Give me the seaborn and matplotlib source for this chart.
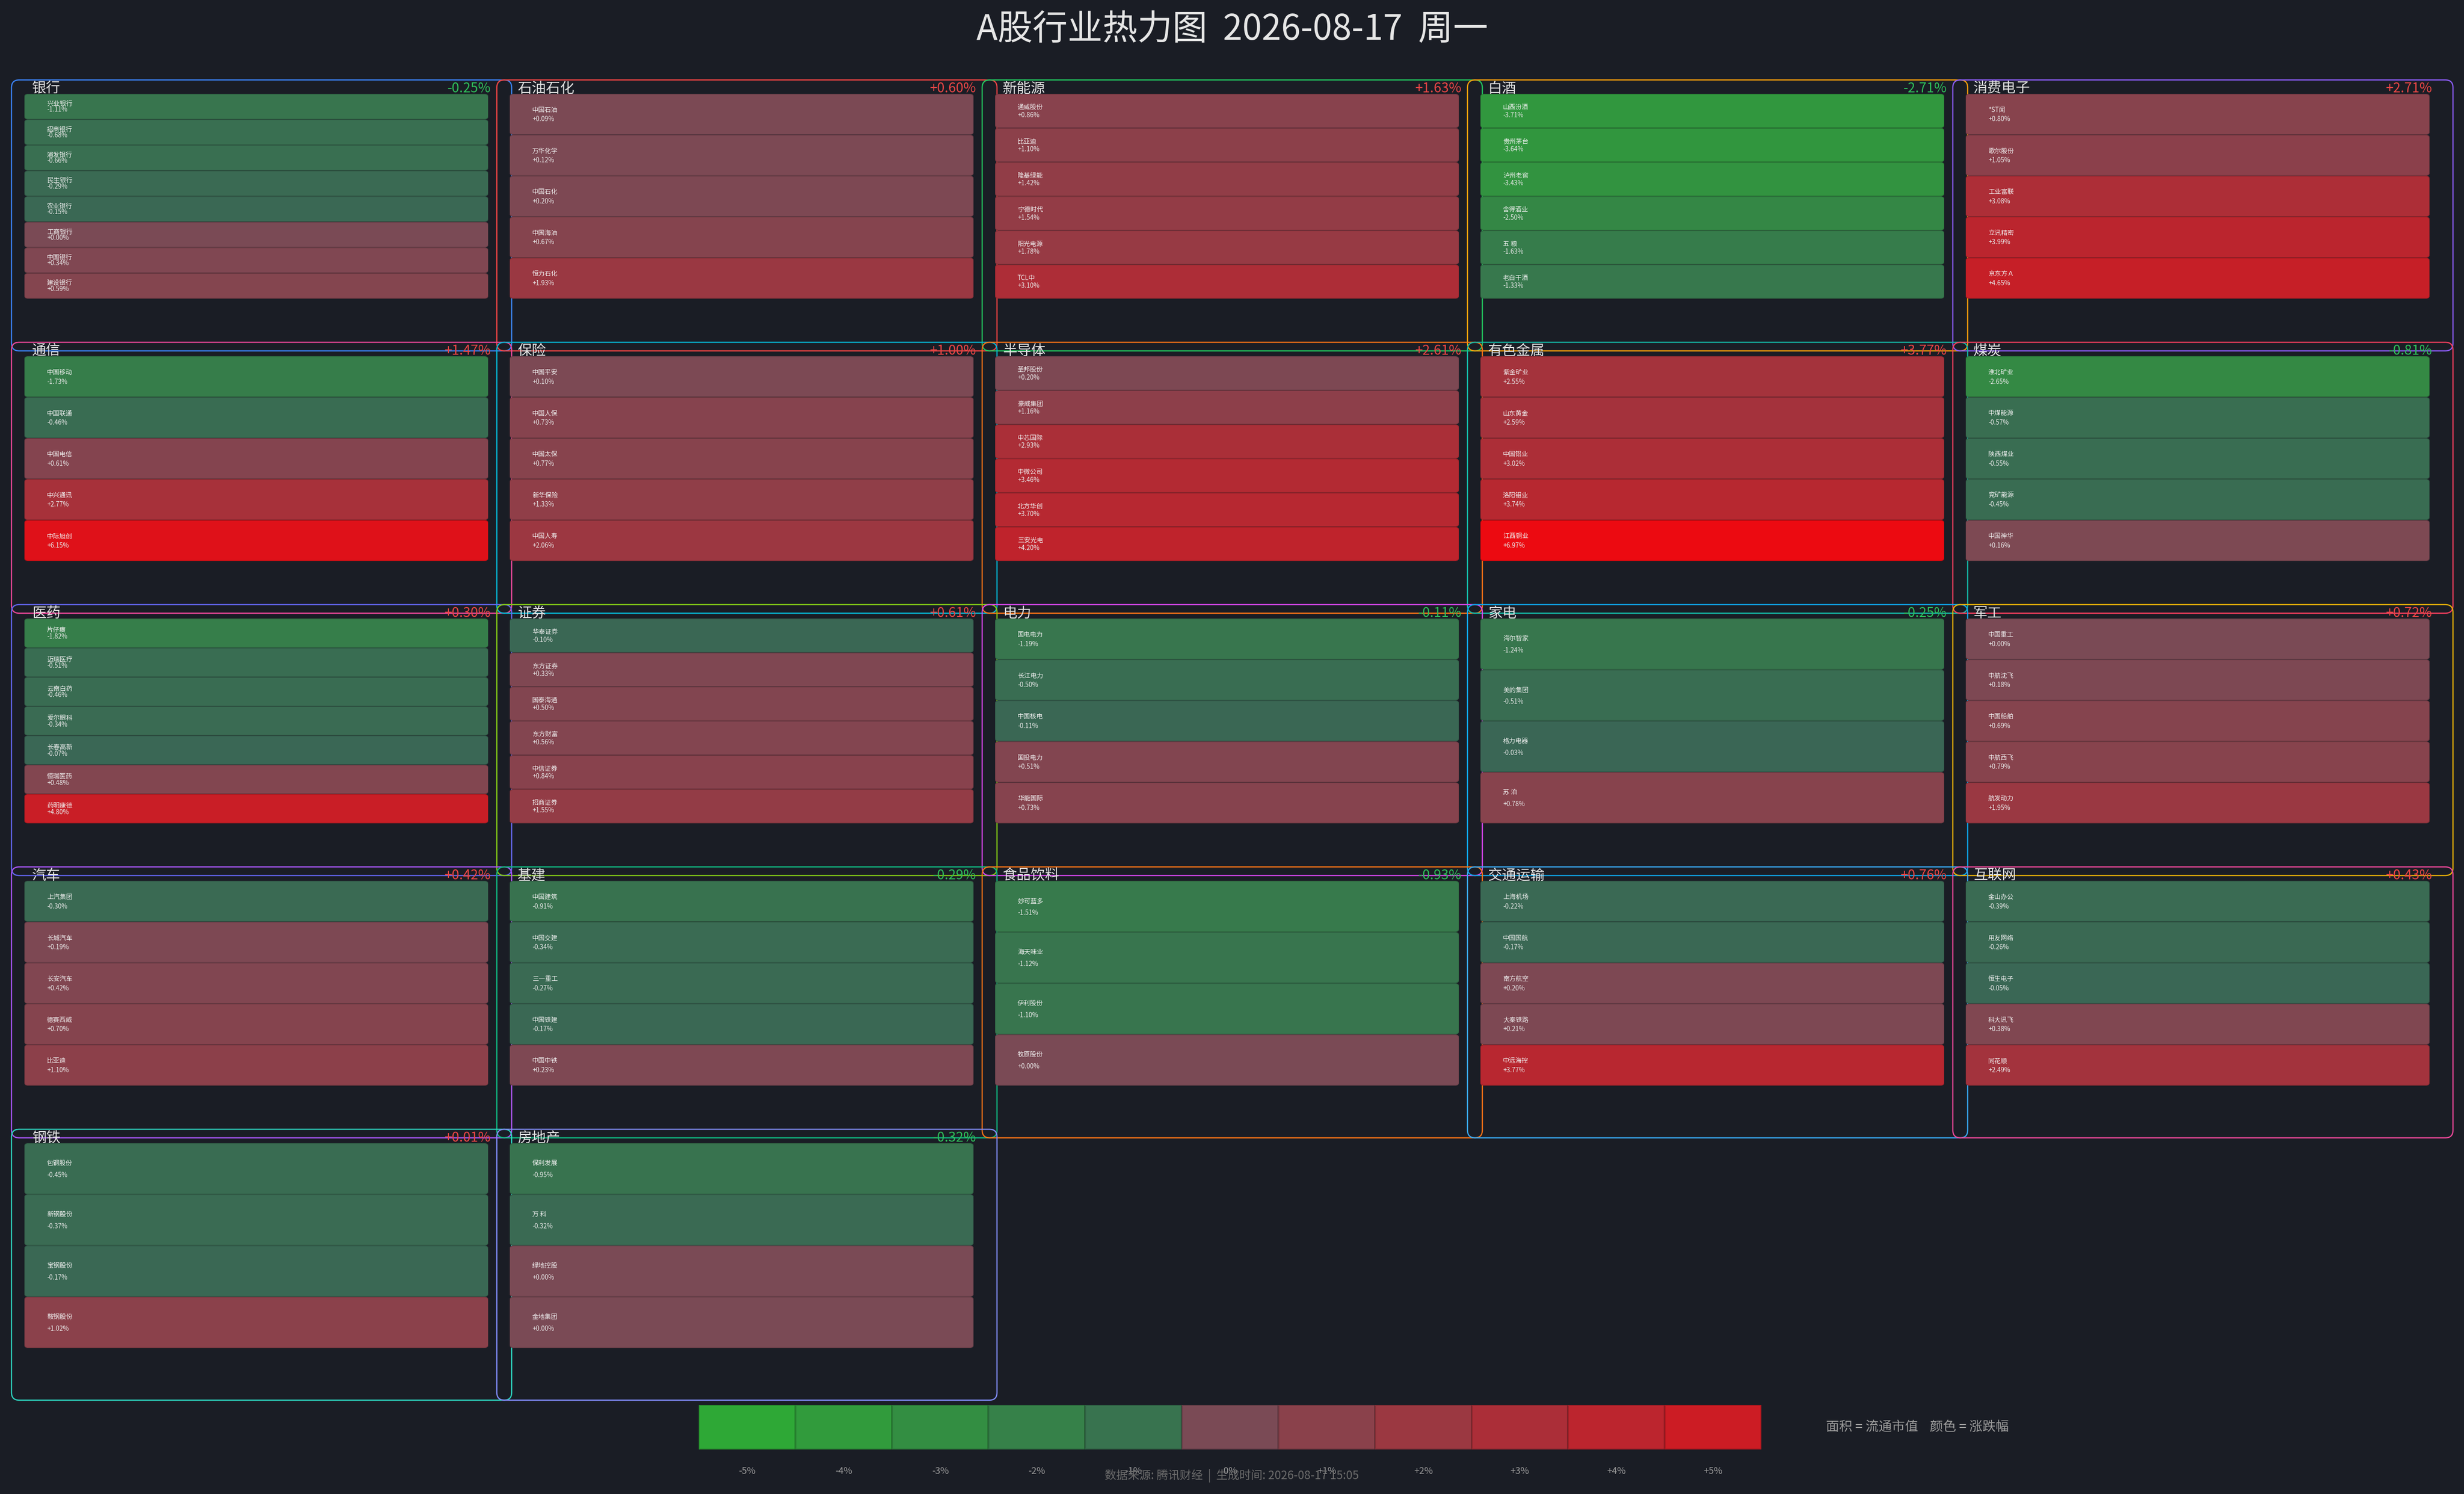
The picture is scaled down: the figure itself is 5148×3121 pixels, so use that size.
import numpy as np
import matplotlib
matplotlib.use("Agg")
import matplotlib.pyplot as plt
from matplotlib.patches import FancyBboxPatch
from matplotlib.colors import ListedColormap
import seaborn as sns

# ---------------- data ----------------
sectors = ["银行", "石油石化", "新能源", "白酒", "消费电子",
           "通信", "保险", "半导体", "有色金属", "煤炭",
           "医药", "证券", "电力", "家电", "军工",
           "汽车", "基建", "食品饮料", "交通运输", "互联网",
           "钢铁", "房地产"]
sector_changes = [-0.25, 0.60, 1.63, -2.71, 2.71,
                  1.47, 1.00, 2.61, 3.77, -0.81,
                  0.30, 0.61, -0.11, -0.25, 0.72,
                  0.42, -0.29, -0.93, 0.76, 0.43,
                  0.01, -0.32]
stock_names = [
    ["兴业银行", "招商银行", "浦发银行", "民生银行", "农业银行", "工商银行", "中国银行", "建设银行"],
    ["中国石油", "万华化学", "中国石化", "中国海油", "恒力石化"],
    ["通威股份", "比亚迪", "隆基绿能", "宁德时代", "阳光电源", "TCL中"],
    ["山西汾酒", "贵州茅台", "泸州老窖", "舍得酒业", "五 粮", "老白干酒"],
    ["*ST闻", "歌尔股份", "工业富联", "立讯精密", "京东方Ａ"],
    ["中国移动", "中国联通", "中国电信", "中兴通讯", "中际旭创"],
    ["中国平安", "中国人保", "中国太保", "新华保险", "中国人寿"],
    ["圣邦股份", "豪威集团", "中芯国际", "中微公司", "北方华创", "三安光电"],
    ["紫金矿业", "山东黄金", "中国铝业", "洛阳钼业", "江西铜业"],
    ["淮北矿业", "中煤能源", "陕西煤业", "兖矿能源", "中国神华"],
    ["片仔癀", "迈瑞医疗", "云南白药", "爱尔眼科", "长春高新", "恒瑞医药", "药明康德"],
    ["华泰证券", "东方证券", "国泰海通", "东方财富", "中信证券", "招商证券"],
    ["国电电力", "长江电力", "中国核电", "国投电力", "华能国际"],
    ["海尔智家", "美的集团", "格力电器", "苏 泊"],
    ["中国重工", "中航沈飞", "中国船舶", "中航西飞", "航发动力"],
    ["上汽集团", "长城汽车", "长安汽车", "德赛西威", "比亚迪"],
    ["中国建筑", "中国交建", "三一重工", "中国铁建", "中国中铁"],
    ["妙可蓝多", "海天味业", "伊利股份", "牧原股份"],
    ["上海机场", "中国国航", "南方航空", "大秦铁路", "中远海控"],
    ["金山办公", "用友网络", "恒生电子", "科大讯飞", "同花顺"],
    ["包钢股份", "新钢股份", "宝钢股份", "鞍钢股份"],
    ["保利发展", "万 科", "绿地控股", "金地集团"],
]
stock_changes = [
    [-1.11, -0.68, -0.66, -0.29, -0.15, 0.00, 0.34, 0.59],
    [0.09, 0.12, 0.20, 0.67, 1.93],
    [0.86, 1.10, 1.42, 1.54, 1.78, 3.10],
    [-3.71, -3.64, -3.43, -2.50, -1.63, -1.33],
    [0.80, 1.05, 3.08, 3.99, 4.65],
    [-1.73, -0.46, 0.61, 2.77, 6.15],
    [0.10, 0.73, 0.77, 1.33, 2.06],
    [0.20, 1.16, 2.93, 3.46, 3.70, 4.20],
    [2.55, 2.59, 3.02, 3.74, 6.97],
    [-2.65, -0.57, -0.55, -0.45, 0.16],
    [-1.82, -0.51, -0.46, -0.34, -0.07, 0.48, 4.80],
    [-0.10, 0.33, 0.50, 0.56, 0.84, 1.55],
    [-1.19, -0.50, -0.11, 0.51, 0.73],
    [-1.24, -0.51, -0.03, 0.78],
    [0.00, 0.18, 0.69, 0.79, 1.95],
    [-0.30, 0.19, 0.42, 0.70, 1.10],
    [-0.91, -0.34, -0.27, -0.17, 0.23],
    [-1.51, -1.12, -1.10, 0.00],
    [-0.22, -0.17, 0.20, 0.21, 3.77],
    [-0.39, -0.26, -0.05, 0.38, 2.49],
    [-0.45, -0.37, -0.17, 1.02],
    [-0.95, -0.32, 0.00, 0.00],
]
legend_values = [-5, -4, -3, -2, -1, 0, 1, 2, 3, 4, 5]
legend_labels = ["-5%", "-4%", "-3%", "-2%", "-1%", "0%", "+1%", "+2%", "+3%", "+4%", "+5%"]
title_text = "A股行业热力图  2026-08-17  周一"
footer_text = "数据来源: 腾讯财经  |  生成时间: 2026-08-17 15:05"
legend_text = "面积 = 流通市值    颜色 = 涨跌幅"

# ---------------- style ----------------
border_colors = ["#3b82f6", "#ef4444", "#22c55e", "#f59e0b", "#8b5cf6",
                 "#ec4899", "#06b6d4", "#f97316", "#14b8a6", "#f43f5e",
                 "#6366f1", "#84cc16", "#d946ef", "#0ea5e9", "#eab308",
                 "#a855f7", "#10b981", "#f97316", "#38a7f0", "#ec4899",
                 "#2dd4bf", "#818cf8"]
BG = "#1a1d25"
UP = "#e84545"
DOWN = "#2ebd59"
W, H, DPI = 5148, 3121, 200


def chg_color(v):
    if v >= 0:
        rgb = (122 + 16.4 * v, 74 - 9.2 * v, 85 - 9.8 * v)
    else:
        t = -v
        rgb = (58.5 - 2.5 * t, 102 + 13.25 * t, 85 - 6.25 * t)
    return tuple(min(max(c, 0), 255) / 255 for c in rgb)


sns.set_theme(style="dark")
plt.rcParams["font.family"] = ["Noto Sans CJK SC", "DejaVu Sans"]
plt.rcParams["axes.unicode_minus"] = False

fig = plt.figure(figsize=(W / DPI, H / DPI), dpi=DPI, facecolor=BG)
over = fig.add_axes([0, 0, 1, 1])
over.set_xlim(0, W)
over.set_ylim(H, 0)
over.axis("off")
over.set_zorder(0)

fig.text(0.5, 1 - 62 / H, title_text, ha="center", va="center",
         fontsize=26.3, color="#e6e6e6")

COL_PITCH, ROW_PITCH = 1014, 548
BOX_W, BOX_H = 1045, 566
TX0, TX1, TY0, TY1 = 27, 996, 29, 457

for k, name in enumerate(sectors):
    r, c = divmod(k, 5)
    bl = 24 + c * COL_PITCH
    bt = 167 + r * ROW_PITCH
    over.add_patch(FancyBboxPatch((bl, bt), BOX_W, BOX_H,
                                  boxstyle="round,pad=0,rounding_size=16",
                                  fill=False, ec=border_colors[k], lw=0.9))
    over.text(bl + 43, bt + 18, name, ha="left", va="center",
              fontsize=10.7, color="#e2e2e2")
    sc = sector_changes[k]
    over.text(bl + 1002, bt + 18, f"{sc:+.2f}%", ha="right", va="center",
              fontsize=10.2, color=UP if sc >= 0 else DOWN)

    names = stock_names[k]
    vals = stock_changes[k]
    n = len(names)
    tw = TX1 - TX0
    th = TY1 - TY0
    hpx = th / n
    ax = fig.add_axes([(bl + TX0) / W, 1 - (bt + TY1) / H, tw / W, th / H])
    ax.set_xlim(0, 1)
    ax.set_ylim(n, 0)
    ax.axis("off")
    ax.set_zorder(2)
    cols = [chg_color(v) for v in vals]
    bars = ax.barh(np.arange(n) + 0.5, [1] * n, height=1, left=0, color=cols)
    gap = 0.8 / hpx
    for i, bar in enumerate(bars):
        x, y, bw, bh = bar.get_x(), bar.get_y(), bar.get_width(), bar.get_height()
        bar.set_visible(False)
        fc = cols[i]
        ec = tuple(ch * 0.85 for ch in fc)
        ax.add_patch(FancyBboxPatch((x, y + gap), bw, bh - 2 * gap,
                                    boxstyle=f"round,pad=0,rounding_size={7 / tw}",
                                    mutation_aspect=tw / hpx,
                                    fc=fc, ec=ec, lw=0.5))
        cy = y + bh / 2
        ax.text(47 / tw, cy - 0.105, names[i], ha="left", va="center",
                fontsize=4.8, color="#f2f2f2")
        ax.text(47 / tw, cy + 0.125, f"{vals[i]:+.2f}%", ha="left", va="center",
                fontsize=4.8, color="#e8e8e8")

# colour legend bar
cax = fig.add_axes([1460 / W, 1 - 3028 / H, 2220 / W, 93 / H])
cb_cols = [chg_color(v) for v in legend_values]
sns.heatmap(np.array([legend_values]), cmap=ListedColormap(cb_cols), cbar=False,
            ax=cax, linewidths=0.8, linecolor=(0, 0, 0, 0.15),
            xticklabels=legend_labels, yticklabels=False)
cax.tick_params(axis="x", length=0, pad=12.5, labelsize=7, labelcolor="#9a9a9a",
                labelrotation=0)
cax.set_xlabel("")
cax.set_ylabel("")

fig.text(3815 / W, 1 - 2981 / H, legend_text, ha="left", va="center",
         fontsize=9.9, color="#9a9a9a")
fig.text(0.5, 1 - 3083 / H, footer_text, ha="center", va="center",
         fontsize=8.7, color="#6b6b6b")

fig.savefig("out.png", dpi=DPI, facecolor=BG)
